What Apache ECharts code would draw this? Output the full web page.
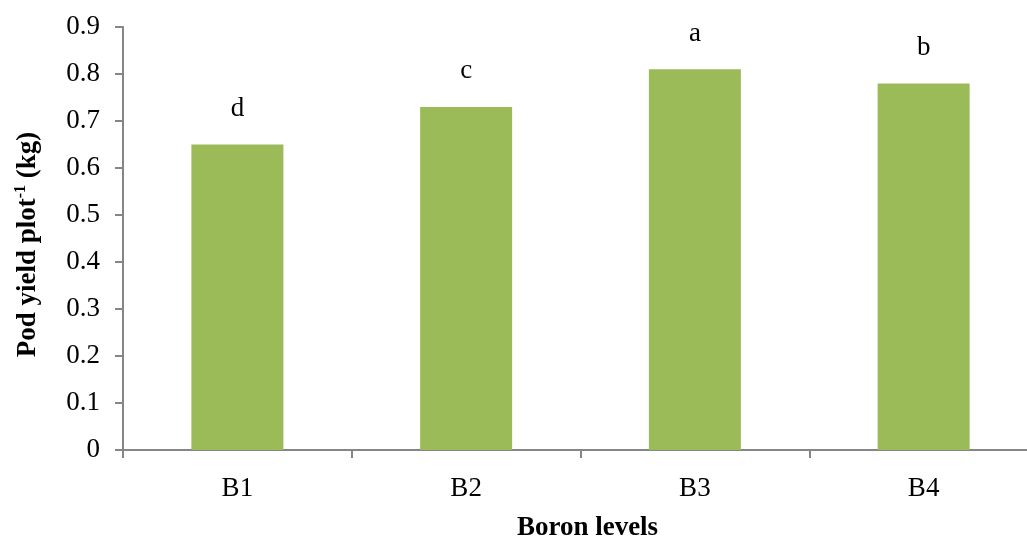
<!DOCTYPE html>
<html>
<head>
<meta charset="utf-8">
<script src="https://cdn.jsdelivr.net/npm/echarts@6/dist/echarts.min.js"></script>
<style>html,body{margin:0;padding:0;background:#fff;overflow:hidden;}#c{width:1027px;height:536px;}</style>
</head>
<body>
<div id="c"></div>
<script>
const categories = ['B1', 'B2', 'B3', 'B4'];
const values = [0.65, 0.73, 0.81, 0.78];
const letters = ['d', 'c', 'a', 'b'];
const yMin = 0, yMax = 0.9, yInterval = 0.1;

const font = 'Liberation Serif, Times New Roman, serif';
const fs = 27;
const chart = echarts.init(document.getElementById('c'), null, {renderer: 'canvas'});
chart.setOption({
  animation: false,
  backgroundColor: '#fff',
  grid: {left: 123, right: -11, top: 27, bottom: 86, containLabel: false, outerBoundsMode: 'none'},
  xAxis: {
    type: 'category',
    data: categories,
    name: 'Boron levels',
    nameLocation: 'middle',
    nameGap: 65,
    nameTextStyle: {fontFamily: font, fontSize: fs, fontWeight: 'bold', color: '#000', padding: [0, 0, 0, 14]},
    axisLine: {lineStyle: {color: '#868686', width: 2}},
    axisTick: {show: true, length: 8, lineStyle: {color: '#868686', width: 2}},
    axisLabel: {fontFamily: font, fontSize: fs, color: '#000', margin: 25}
  },
  yAxis: {
    type: 'value',
    min: yMin, max: yMax, interval: yInterval,
    name: '{a|Pod yield plot}{s|-1}{a| (kg)}',
    nameLocation: 'middle',
    nameGap: 80,
    nameTextStyle: {
      fontFamily: font, fontSize: fs, fontWeight: 'bold', color: '#000',
      padding: [0, 12, 0, 0],
      rich: {
        a: {fontFamily: font, fontSize: fs, fontWeight: 'bold', color: '#000', lineHeight: 30},
        s: {fontFamily: font, fontSize: 16, fontWeight: 'bold', color: '#000', lineHeight: 30, verticalAlign: 'top', padding: [0,0,12,0]}
      }
    },
    splitLine: {show: false},
    axisLine: {show: true, lineStyle: {color: '#868686', width: 2}},
    axisTick: {show: true, length: 8, lineStyle: {color: '#868686', width: 2}},
    axisLabel: {fontFamily: font, fontSize: fs, color: '#000', margin: 23,
      formatter: v => (Math.round(v * 10) / 10).toString()}
  },
  series: [{
    type: 'bar',
    data: values,
    barWidth: 92,
    itemStyle: {color: '#9BBB59'},
    label: {
      show: true,
      position: 'top',
      distance: 22,
      fontFamily: font, fontSize: fs, color: '#000',
      formatter: p => letters[p.dataIndex]
    }
  }]
});
</script>
</body>
</html>
